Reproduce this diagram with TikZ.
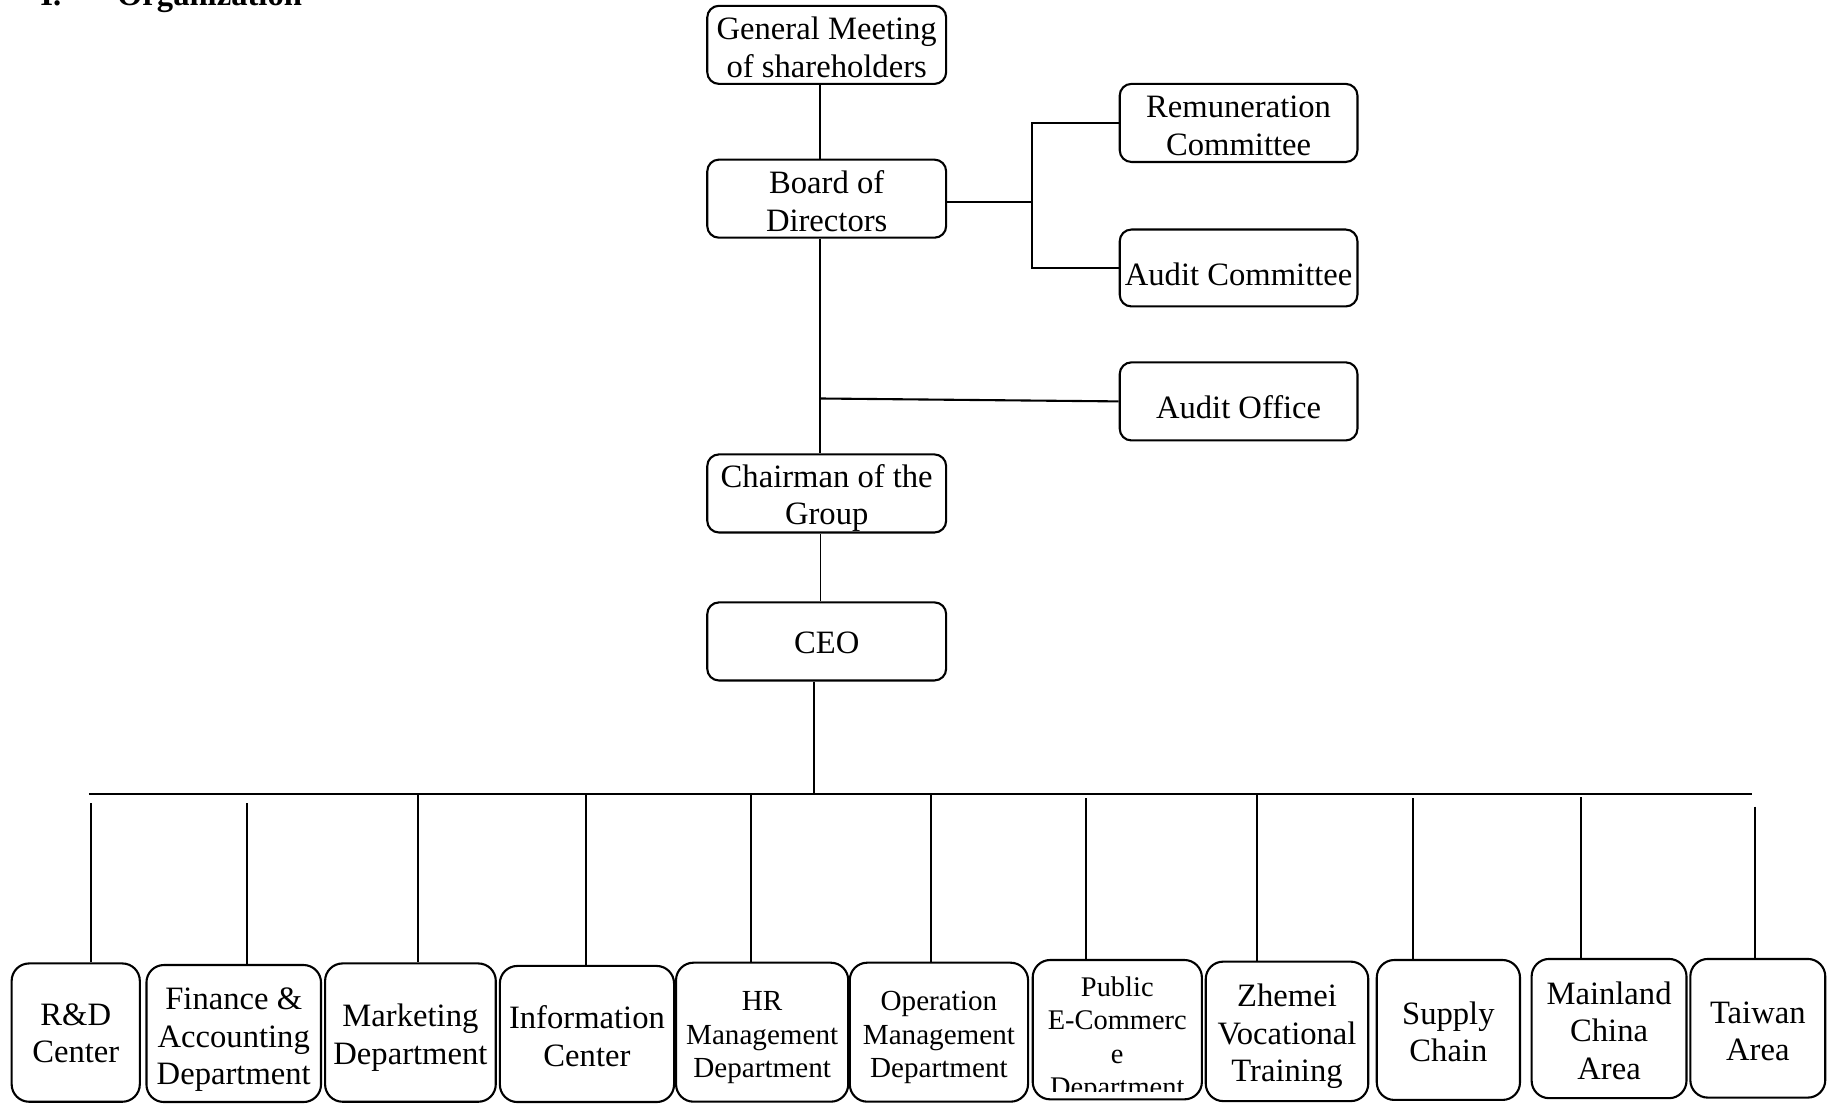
\documentclass[tikz,border=0pt]{standalone}
\usepackage{fontspec}
\setmainfont{Liberation Serif}

% line strut: every text line takes one full baselineskip (0.8 above, 0.2 below)
\newcommand{\orgstrut}{\rule[-0.2\baselineskip]{0pt}{\baselineskip}}
% first-line strut with extra room above, which lowers the text block by half of it
\newcommand{\firststrut}[1]{\rule[-0.2\baselineskip]{0pt}{\dimexpr\baselineskip+#1\relax}}
% last-line strut with less room below, which also lowers the text block by half of it
\newcommand{\laststrut}[1]{\rule[\dimexpr#1-0.2\baselineskip\relax]{0pt}{\dimexpr\baselineskip-#1\relax}}

\tikzset{
  link/.style={line width=0.9pt},
  thinlink/.style={line width=0.6pt},
  unitbox/.style={draw, line width=0.9pt, rounded corners=5pt, align=center,
    inner sep=0pt, font=\fontsize{14}{16.1}\selectfont},
  deptbox/.style={draw, line width=0.9pt, rounded corners=7.5pt, align=center,
    inner sep=0pt, font=\fontsize{14}{16.1}\selectfont},
  smalltext/.style={font=\fontsize{12.5}{14.4}\selectfont},
  heading/.style={anchor=base west, inner sep=0pt,
    font=\fontsize{14}{16.1}\selectfont\bfseries}
}

\begin{document}
\begin{tikzpicture}[x=0.5pt, y=-0.5pt]
\useasboundingbox (0,0) rectangle (1568,947);

% section heading
\node[heading] (secnum) at (34.3,4.3) {I.};
\node[heading] (sectitle) at (100.1,4.3) {Organization};

% governance chain
\node[unitbox, minimum width=102.5pt, minimum height=33.5pt] (gm) at (709.5,38.5)
  {\firststrut{1pt}General Meeting\\\laststrut{1pt}of shareholders};
\node[unitbox, minimum width=102.5pt, minimum height=33.5pt] (board) at (709.5,170.5)
  {\firststrut{1pt}Board of\\\laststrut{1pt}Directors};
\node[unitbox, minimum width=102.5pt, minimum height=33.5pt] (chair) at (709.5,423.5)
  {\firststrut{1pt}Chairman of the\\\laststrut{1pt}Group};
\node[unitbox, minimum width=102.5pt, minimum height=33.5pt] (ceo) at (709.5,550.5)
  {\firststrut{1pt}CEO};

% committees and audit office
\node[unitbox, minimum width=102pt, minimum height=33.5pt] (rem) at (1063,105.5)
  {\firststrut{1pt}Remuneration\\\laststrut{1pt}Committee};
\node[unitbox, minimum width=102pt, minimum height=33pt] (audcom) at (1063,230)
  {\firststrut{5pt}Audit Committee};
\node[unitbox, minimum width=102pt, minimum height=33.5pt] (audoff) at (1063,344.5)
  {\firststrut{5pt}Audit Office};

% departments
\node[deptbox, minimum width=55pt, minimum height=59.35pt] (rd) at (65,886.2)
  {\orgstrut R\&D\\\orgstrut Center};
\node[deptbox, minimum width=74.9pt, minimum height=58.8pt] (fin) at (200.6,887)
  {\firststrut{2pt}Finance \&\\\orgstrut Accounting\\\orgstrut Department};
\node[deptbox, minimum width=73.25pt, minimum height=59.35pt] (mkt) at (352.25,886.2)
  {\firststrut{1.5pt}Marketing\\\orgstrut Department};
\node[deptbox, minimum width=74.75pt, minimum height=58.4pt] (info) at (503.75,887.4)
  {\firststrut{2pt}Information\\\orgstrut Center};
\node[deptbox, smalltext, minimum width=73.9pt, minimum height=59.65pt] (hr) at (654.1,885.85)
  {\firststrut{1.5pt}HR\\\orgstrut Management\\\orgstrut Department};
\node[deptbox, smalltext, minimum width=76.5pt, minimum height=59.65pt] (ops) at (805.8,885.85)
  {\firststrut{1.5pt}Operation\\\orgstrut Management\\\orgstrut Department};
\node[deptbox, minimum width=72.6pt, minimum height=59.8pt] (pub) at (958.9,883.7) {};
\begin{scope}
  \clip (886.3,823.9) rectangle (1031.5,937);
  \node[anchor=north, inner sep=0pt, align=center, font=\fontsize{12.2}{14.4}\selectfont]
    (pubtext) at ([yshift=-4.2pt]pub.north)
    {\orgstrut Public\\\orgstrut E-Commerc\\\orgstrut e\\\orgstrut Department};
\end{scope}
\node[deptbox, minimum width=69.75pt, minimum height=59.85pt] (zhe) at (1104.55,885.15)
  {\firststrut{1.5pt}Zhemei\\\orgstrut Vocational\\\orgstrut Training};
\node[deptbox, minimum width=61.45pt, minimum height=60.05pt] (sup) at (1243.05,883.95)
  {\firststrut{1.5pt}Supply\\\orgstrut Chain};
\node[deptbox, minimum width=66.45pt, minimum height=59.75pt] (mld) at (1380.95,882.75)
  {\firststrut{1.5pt}Mainland\\\orgstrut China\\\orgstrut Area};
\node[deptbox, minimum width=57.9pt, minimum height=59.5pt] (tw) at (1508.6,882.5)
  {\firststrut{2pt}Taiwan\\\orgstrut Area};

% junction points
\coordinate (spine) at (704,0);
\coordinate (brj) at (886,173.5);
\coordinate (aoj) at (704,342);
\coordinate (busc) at (698.3,681.4);
\coordinate (busL) at (76.2,681.4);
\coordinate (busR) at (1503.2,681.4);

% governance connectors
\draw[link] (gm.south -| spine) -- (board.north -| spine);
\draw[link] (board.south -| spine) -- (chair.north -| spine);
\draw[thinlink] (chair.south -| spine) -- (ceo.north -| spine);
\draw[link] (board.east |- brj) -- (brj);
\draw[link] (rem.west) -| (brj) |- (audcom.west);
\draw[link] (aoj) -- (audoff.west);

% CEO to department bus
\draw[link] (ceo.south -| busc) -- (busc);
\draw[link] (busL) -- (busR);

% drops to departments
\coordinate (d1) at (77.8,689.4);
\coordinate (d2) at (211.9,689.4);
\coordinate (d3) at (358.6,681.4);
\coordinate (d4) at (503,681.4);
\coordinate (d5) at (644.5,681.4);
\coordinate (d6) at (799.3,681.4);
\coordinate (d7) at (932.3,685.1);
\coordinate (d8) at (1079,681.4);
\coordinate (d9) at (1212.5,685.1);
\coordinate (d10) at (1356.7,684.3);
\coordinate (d11) at (1505.8,692.3);
\draw[link] (d1) -- (d1 |- rd.north);
\draw[link] (d2) -- (d2 |- fin.north);
\draw[link] (d3) -- (d3 |- mkt.north);
\draw[link] (d4) -- (d4 |- info.north);
\draw[link] (d5) -- (d5 |- hr.north);
\draw[link] (d6) -- (d6 |- ops.north);
\draw[link] (d7) -- (d7 |- pub.north);
\draw[link] (d8) -- (d8 |- zhe.north);
\draw[link] (d9) -- (d9 |- sup.north);
\draw[link] (d10) -- (d10 |- mld.north);
\draw[link] (d11) -- (d11 |- tw.north);
\end{tikzpicture}
\end{document}
